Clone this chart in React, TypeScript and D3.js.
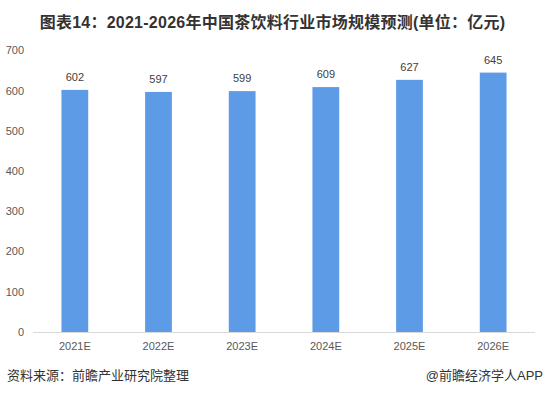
import React from 'react';
import * as d3 from 'd3';

const years = ['2021E', '2022E', '2023E', '2024E', '2025E', '2026E'];
const values = [602, 597, 599, 609, 627, 645];
const yTicks = [0, 100, 200, 300, 400, 500, 600, 700];

const title = '图表14：2021-2026年中国茶饮料行业市场规模预测(单位：亿元)';
const source = '资料来源：前瞻产业研究院整理';
const brand = '@前瞻经济学人APP';

const W = 545;
const H = 394;
const FONT = '"Liberation Sans", Arial, "Noto Sans CJK SC", sans-serif';

const App = () => {
  // plot area
  const left = 33, right = 535, top = 50.5, bottom = 332;

  const x = d3.scaleBand()
    .domain(years)
    .range([left, right])
    .paddingInner(0.68)
    .paddingOuter(0.34);

  const y = d3.scaleLinear()
    .domain([0, 700])
    .range([bottom, top]);

  return (
    <svg width={W} height={H} style={{ position: 'absolute', left: 0, top: 0, background: '#fff' }}
      fontFamily={FONT}>
      <text x={W / 2} y={28} textAnchor="middle" fontSize={16} fontWeight="bold" fill="#333"
        letterSpacing={0.25}>
        {title}
      </text>

      {/* y tick labels */}
      {yTicks.map(t => (
        <text key={t} x={24} y={y(t)} dy="0.35em" textAnchor="end" fontSize={11} fill="#595959">
          {t}
        </text>
      ))}

      {/* bars */}
      {years.map((yr, i) => (
        <rect key={yr} x={x(yr)} y={y(values[i])} width={x.bandwidth()}
          height={bottom - y(values[i])} fill="#5E9BE6" />
      ))}

      {/* value labels */}
      {years.map((yr, i) => (
        <text key={'v' + yr} x={(x(yr) as number) + x.bandwidth() / 2} y={y(values[i]) - 9}
          textAnchor="middle" fontSize={11} fill="#404040">
          {values[i]}
        </text>
      ))}

      {/* x axis */}
      <line x1={left} x2={right} y1={bottom + 0.5} y2={bottom + 0.5} stroke="#d9d9d9" />
      {years.map(yr => (
        <text key={'x' + yr} x={(x(yr) as number) + x.bandwidth() / 2} y={346} dy="0.35em"
          textAnchor="middle" fontSize={11} fill="#595959">
          {yr}
        </text>
      ))}

      {/* footer */}
      <text x={7} y={375} dy="0.35em" fontSize={13} fill="#333">{source}</text>
      <text x={543} y={375} dy="0.35em" textAnchor="end" fontSize={13} fill="#333">{brand}</text>
    </svg>
  );
};

export default App;
